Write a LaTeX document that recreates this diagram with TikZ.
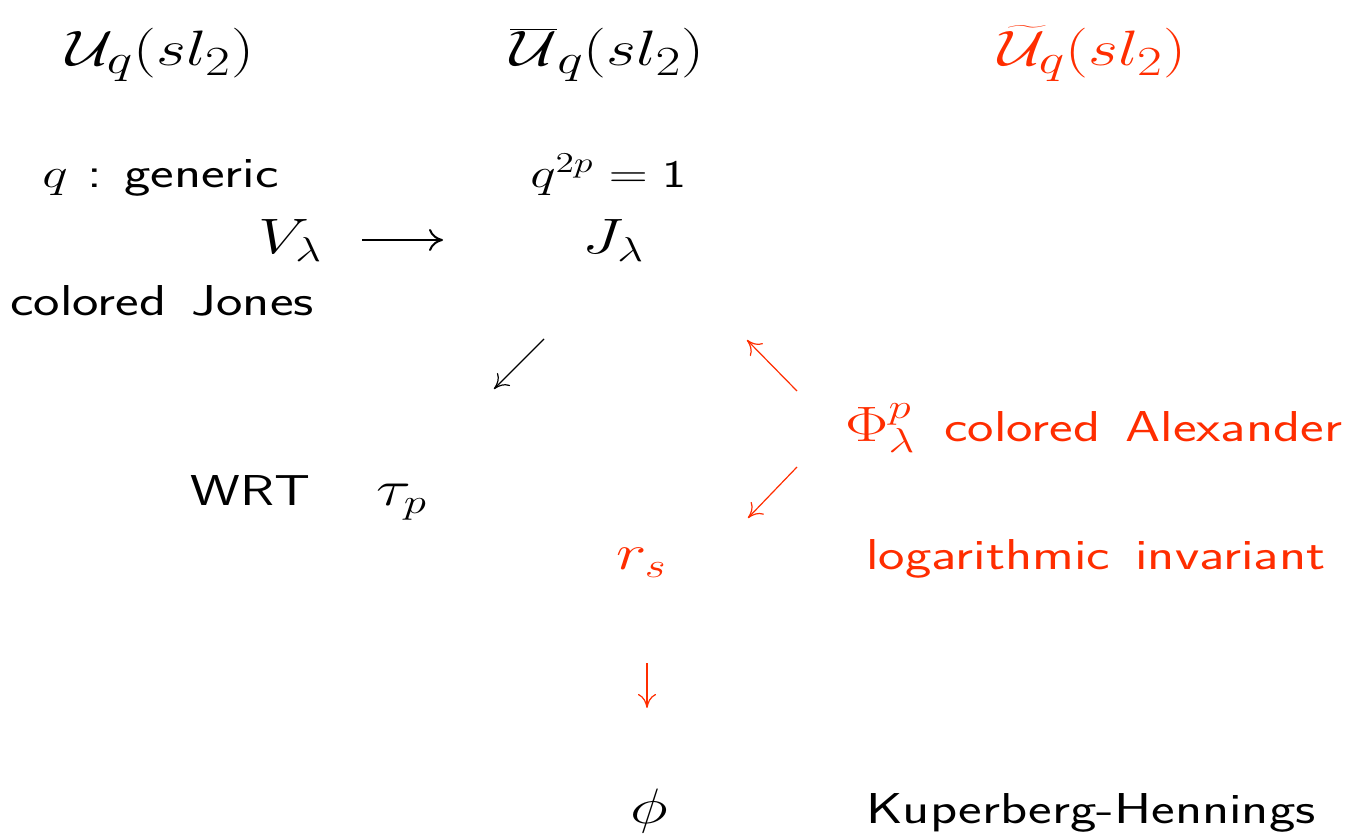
\documentclass[tikz,border=0pt]{standalone}
\usepackage{fontspec}
\usepackage{graphicx}
\newfontfamily\sstext{lmsans17-regular.otf}
\usetikzlibrary{arrows.meta}
\definecolor{hred}{RGB}{255,45,0}
\newcommand{\sx}[1]{\scalebox{1.3}[1]{\spaceskip=0.45em\relax #1}}
\tikzset{
  txt/.style={inner sep=0pt, anchor=base west, font=\sstext\fontsize{21.6}{26}\selectfont},
  mth/.style={inner sep=0pt, anchor=base west, font=\sstext\fontsize{#1}{30}\selectfont},
  hl/.style={text=hred},
  arr/.style={-{Computer Modern Rightarrow[length=7pt,width=9pt]}, line width=0.6pt},
  harr/.style={-{Computer Modern Rightarrow[length=7pt,width=11pt]}, line width=1pt},
}
\begin{document}
\begin{tikzpicture}[x=0.5pt,y=-0.5pt]
\useasboundingbox (0,0) rectangle (1346,834);
% headers
\node[mth=27.5] (U) at (66,66) {\sx{$\mathcal{U}_q(sl_2)$}};
\node[mth=27.5] (Ubar) at (510,66) {\sx{$\overline{\mathcal{U}}_q(sl_2)$}};
\node[mth=27.5,hl] (Ut) at (998,66) {\sx{$\widetilde{\mathcal{U}}_q(sl_2)$}};
% second row
\node[txt] (qg) at (42,188) {\sx{$q$\kern0.35em:\kern0.4em generic}};
\node[mth=19.5] (q2p) at (530,188) {\sx{$q^{2p}=\mbox{1}$}};
\node[mth=23] (V) at (258,254) {\sx{$V_\lambda$}};
\node[mth=23] (J) at (582,254) {\sx{$J_\lambda$}};
\node[txt] (cj) at (10,316) {\sx{colored Jones}};
\coordinate (h1) at (362,240);
\coordinate (h2) at (443,240);
\draw[harr] (h1) -- (h2);
% black diagonal
\coordinate (b1) at (544,339);
\coordinate (b2) at (494,389);
\draw[arr] (b1) -- (b2);
% red diagonals
\coordinate (r1) at (797,391);
\coordinate (r2) at (747,340);
\draw[arr,hred] (r1) -- (r2);
\coordinate (r3) at (797,467);
\coordinate (r4) at (748,518);
\draw[arr,hred] (r3) -- (r4);
% WRT
\node[txt] (wrt) at (190,506) {\sx{WRT}};
\node[mth=27] (tau) at (376,506) {\sx{$\tau_p$}};
% Alexander
\node[mth=25,hl] (Phi) at (845,442) {\sx{$\Phi^p_\lambda$}};
\node[txt,hl] (ca) at (944,442) {\sx{colored Alexander}};
% log
\node[mth=27,hl] (rs) at (616,570) {\sx{$r_s$}};
\node[txt,hl] (li) at (866,570) {\sx{logarithmic invariant}};
\coordinate (d1) at (647,663);
\coordinate (d2) at (647,708);
\draw[arr,hred] (d1) -- (d2);
% KH
\node[mth=24] (phi) at (630,823) {\sx{$\phi$}};
\node[txt] (kh) at (866,823) {\sx{Kuperberg-Hennings}};
\end{tikzpicture}
\end{document}
